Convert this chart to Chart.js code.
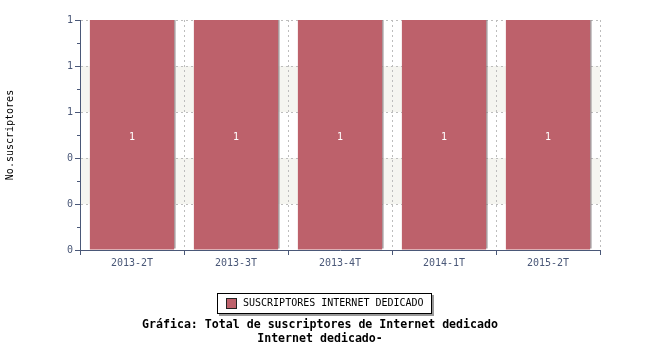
<!DOCTYPE html>
<html>
<head>
<meta charset="utf-8">
<script src="https://cdn.jsdelivr.net/npm/chart.js@4"></script>
<style>
  html, body { margin: 0; padding: 0; background: #fff; }
  #wrap { position: relative; width: 650px; height: 350px; }
  #chart { position: absolute; left: 0; top: 0; }
  #legend {
    position: absolute; left: 217px; top: 293px; width: 213px; height: 19px;
    border: 1px solid #000; background: #fff; box-shadow: 2px 2px 0 #999;
    font: 10px "DejaVu Sans Mono", monospace; color: #000;
  }
  #legend .sw {
    position: absolute; left: 8px; top: 4px; width: 9px; height: 9px;
    background: #bd616b; border: 1px solid #222;
  }
  #legend .tx { position: absolute; left: 25px; top: 3px; white-space: nowrap; }
  #title {
    position: absolute; left: 0; top: 317px; width: 640px; text-align: center;
    font: bold 11.6px "DejaVu Sans Mono", monospace; line-height: 14px; color: #000;
  }
</style>
</head>
<body>
<div id="wrap">
  <canvas id="chart" width="650" height="350"></canvas>
  <div id="legend"><div class="sw"></div><div class="tx">SUSCRIPTORES INTERNET DEDICADO</div></div>
  <div id="title">Gráfica: Total de suscriptores de Internet dedicado<br>Internet dedicado-</div>
</div>
<script>
// --- data ---
const periods = ["2013-2T", "2013-3T", "2013-4T", "2014-1T", "2015-2T"];
const suscriptores = [1, 1, 1, 1, 1];
const yTicks = [0, 0.2, 0.4, 0.6, 0.8, 1];
const seriesName = "SUSCRIPTORES INTERNET DEDICADO";

const axisColor = "#4a5878";
const gridColor = "#bdbdbd";
const barColor = "#bd616b";
const monoFont = "'DejaVu Sans Mono', monospace";

// light bands between alternate ticks
const bandsPlugin = {
    id: "bands",
    beforeDraw(chart) {
        const { ctx, chartArea, scales } = chart;
        const y = scales.y;
        ctx.save();
        ctx.fillStyle = "#f5f5f0";
        for (let i = 1; i < yTicks.length - 1; i += 2) {
            const top = y.getPixelForValue(yTicks[i + 1]);
            const bottom = y.getPixelForValue(yTicks[i]);
            ctx.fillRect(chartArea.left, top, chartArea.right - chartArea.left, bottom - top);
        }
        ctx.restore();
    }
};

// minor tick marks on the y axis
const minorTicksPlugin = {
    id: "minorTicks",
    afterDraw(chart) {
        const { ctx, chartArea, scales } = chart;
        const y = scales.y;
        ctx.save();
        ctx.strokeStyle = axisColor;
        ctx.lineWidth = 1;
        for (let i = 0; i < yTicks.length - 1; i++) {
            const py = Math.round(y.getPixelForValue((yTicks[i] + yTicks[i + 1]) / 2)) + 0.5;
            ctx.beginPath();
            ctx.moveTo(chartArea.left - 3, py);
            ctx.lineTo(chartArea.left, py);
            ctx.stroke();
        }
        ctx.restore();
    }
};

// grey edge on bars + value labels
const barDecorPlugin = {
    id: "barDecor",
    beforeDatasetsDraw(chart) {
        const ctx = chart.ctx;
        ctx.save();
        ctx.shadowColor = "rgba(140,130,132,0.75)";
        ctx.shadowOffsetX = 1.5;
        ctx.shadowOffsetY = -1;
        ctx.shadowBlur = 0;
    },
    afterDatasetsDraw(chart) {
        const ctx = chart.ctx;
        ctx.restore();
        const meta = chart.getDatasetMeta(0);
        ctx.save();
        ctx.fillStyle = "#fff";
        ctx.font = "10px " + monoFont;
        ctx.textAlign = "center";
        ctx.textBaseline = "middle";
        meta.data.forEach((bar, i) => {
            const v = chart.data.datasets[0].data[i];
            ctx.fillText(String(Math.round(v)), bar.x, (bar.y + bar.base) / 2 + 3);
        });
        ctx.restore();
    }
};

new Chart(document.getElementById("chart"), {
    type: "bar",
    data: {
        labels: periods,
        datasets: [{
            label: seriesName,
            data: suscriptores,
            backgroundColor: barColor,
            borderWidth: 0,
            categoryPercentage: 1,
            barPercentage: 0.81
        }]
    },
    options: {
        responsive: false,
        animation: false,
        devicePixelRatio: 1,
        layout: { padding: { left: 0, right: 50, top: 20, bottom: 75 } },
        plugins: {
            legend: { display: false },
            tooltip: { enabled: false }
        },
        scales: {
            x: {
                afterFit(scale) { scale.height = 25; },
                grid: {
                    offset: true,
                    color: gridColor,
                    tickColor: axisColor,
                    tickBorderDash: [],
                    tickLength: 5
                },
                border: { color: axisColor, width: 1, dash: [2, 3] },
                ticks: {
                    color: axisColor,
                    font: { family: monoFont, size: 10 },
                    padding: 2,
                    maxRotation: 0
                }
            },
            y: {
                min: 0,
                max: 1,
                afterFit(scale) { scale.width = 80; },
                afterBuildTicks(scale) { scale.ticks = yTicks.map(v => ({ value: v })); },
                grid: {
                    color: gridColor,
                    tickColor: axisColor,
                    tickBorderDash: [],
                    tickLength: 5
                },
                border: { color: axisColor, width: 1, dash: [2, 3] },
                ticks: {
                    color: axisColor,
                    font: { family: monoFont, size: 10 },
                    padding: 2,
                    callback: v => String(Math.round(v))
                },
                title: {
                    display: true,
                    text: "No.suscriptores",
                    color: "#000",
                    font: { family: monoFont, size: 10 },
                    padding: { top: 4, bottom: 0 }
                }
            }
        }
    },
    plugins: [bandsPlugin, minorTicksPlugin, barDecorPlugin]
});
</script>
</body>
</html>
